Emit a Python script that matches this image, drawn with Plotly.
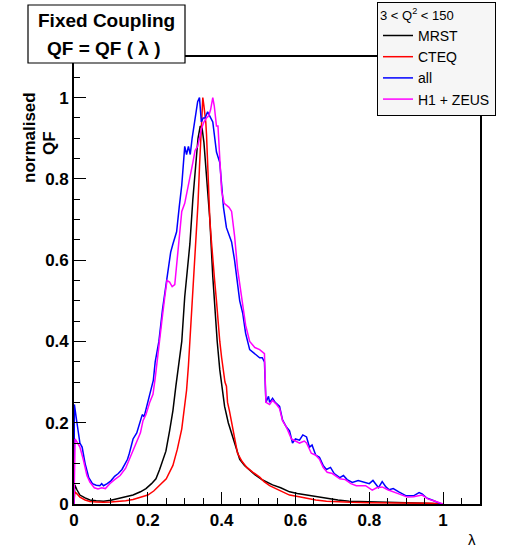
import plotly.graph_objects as go

# ---------------- data ----------------
mrst_x = [0, 0.002, 0.008, 0.016, 0.03, 0.043, 0.06, 0.08, 0.1, 0.12, 0.14, 0.16, 0.18, 0.195, 0.21,
          0.222, 0.232, 0.24, 0.249, 0.259, 0.268, 0.276, 0.284, 0.292, 0.30, 0.307, 0.314, 0.322,
          0.328, 0.332, 0.336, 0.342, 0.347, 0.352, 0.359, 0.368, 0.376, 0.381, 0.388, 0.395, 0.402,
          0.408, 0.418, 0.427, 0.438, 0.449, 0.462, 0.476, 0.49, 0.511, 0.525, 0.538, 0.56, 0.584,
          0.605, 0.63, 0.655, 0.684, 0.715, 0.746, 0.8, 0.85, 0.9, 0.95, 1.0]
mrst_y = [0, 0.047, 0.035, 0.022, 0.015, 0.01, 0.008, 0.007, 0.009, 0.013, 0.017, 0.022, 0.03, 0.038, 0.05,
          0.062, 0.085, 0.105, 0.13, 0.18, 0.23, 0.29, 0.34, 0.40, 0.51, 0.58, 0.64, 0.75,
          0.82, 0.866, 0.90, 0.93, 0.925, 0.89, 0.81, 0.70, 0.56, 0.48, 0.40, 0.33, 0.28,
          0.24, 0.2, 0.175, 0.14, 0.11, 0.095, 0.084, 0.072, 0.059, 0.052, 0.047, 0.04, 0.03,
          0.026, 0.022, 0.018, 0.015, 0.01, 0.007, 0.005, 0.004, 0.003, 0.002, 0.0]

cteq_x = [0, 0.002, 0.008, 0.016, 0.03, 0.043, 0.06, 0.08, 0.1, 0.12, 0.14, 0.16, 0.18, 0.2, 0.216,
          0.232, 0.25, 0.268, 0.28, 0.292, 0.3, 0.305, 0.31, 0.314, 0.318, 0.322, 0.328, 0.332, 0.336,
          0.34, 0.344, 0.346, 0.349, 0.352, 0.354, 0.357, 0.359, 0.362, 0.365, 0.368, 0.372, 0.376,
          0.381, 0.386, 0.39, 0.395, 0.4, 0.404, 0.409, 0.413, 0.416, 0.421, 0.427, 0.435, 0.443,
          0.455, 0.468, 0.485, 0.503, 0.515, 0.53, 0.551, 0.57, 0.584, 0.61, 0.63, 0.655, 0.684,
          0.72, 0.75, 0.8, 0.9, 0.97, 1.0]
cteq_y = [0, 0.03, 0.025, 0.017, 0.01, 0.006, 0.005, 0.004, 0.005, 0.006, 0.008, 0.011, 0.016, 0.022, 0.032,
          0.045, 0.062, 0.095, 0.135, 0.185, 0.24, 0.28, 0.34, 0.40, 0.46, 0.52, 0.6, 0.66, 0.74,
          0.83, 0.9, 0.93, 1.0, 0.98, 0.965, 0.94, 0.91, 0.83, 0.76, 0.70, 0.65, 0.595,
          0.55, 0.50, 0.45, 0.40, 0.36, 0.33, 0.30, 0.29, 0.25, 0.23, 0.2, 0.16, 0.125,
          0.105, 0.09, 0.078, 0.066, 0.055, 0.045, 0.036, 0.028, 0.022, 0.018, 0.014, 0.01, 0.007,
          0.005, 0.004, 0.003, 0.003, 0.002, 0.0]

all_x = [0, 0.001, 0.008, 0.016, 0.022, 0.03, 0.04, 0.05, 0.06, 0.07, 0.075, 0.08, 0.09, 0.1, 0.11,
         0.12, 0.13, 0.14, 0.145, 0.15, 0.16, 0.17, 0.175, 0.18, 0.185, 0.19, 0.2, 0.21, 0.215, 0.22,
         0.23, 0.24, 0.246, 0.255, 0.262, 0.268, 0.278, 0.285, 0.292, 0.30, 0.305, 0.31, 0.315, 0.32,
         0.325, 0.33, 0.335, 0.34, 0.345, 0.35, 0.355, 0.362, 0.37, 0.376, 0.386, 0.395, 0.40, 0.405,
         0.413, 0.42, 0.427, 0.435, 0.443, 0.449, 0.457, 0.465, 0.476, 0.49, 0.503, 0.51, 0.516,
         0.52, 0.527, 0.53, 0.538, 0.545, 0.55, 0.557, 0.565, 0.575, 0.584, 0.592, 0.6, 0.611, 0.62,
         0.63, 0.638, 0.645, 0.655, 0.665, 0.675, 0.684, 0.695, 0.705, 0.72, 0.73, 0.74, 0.754,
         0.77, 0.79, 0.8, 0.81, 0.825, 0.835, 0.845, 0.854, 0.865, 0.88, 0.9, 0.92, 0.935, 0.943,
         0.955, 0.97, 0.985, 0.995]
all_y = [0, 0.245, 0.2, 0.15, 0.14, 0.10, 0.065, 0.05, 0.046, 0.045, 0.05, 0.045, 0.05, 0.057, 0.068,
         0.075, 0.085, 0.10, 0.11, 0.125, 0.16, 0.175, 0.19, 0.21, 0.22, 0.215, 0.25, 0.29, 0.305, 0.35,
         0.40, 0.48, 0.52, 0.57, 0.62, 0.64, 0.67, 0.73, 0.785, 0.88, 0.86, 0.88, 0.86, 0.90,
         0.93, 0.97, 0.99, 1.0, 0.94, 0.95, 0.95, 0.965, 0.95, 0.94, 0.866, 0.84, 0.785, 0.73,
         0.68, 0.66, 0.645, 0.6, 0.54, 0.50, 0.47, 0.42, 0.38, 0.37, 0.36, 0.36, 0.35,
         0.25, 0.265, 0.25, 0.26, 0.25, 0.245, 0.24, 0.207, 0.19, 0.18, 0.15, 0.16, 0.157, 0.17,
         0.165, 0.14, 0.145, 0.12, 0.115, 0.095, 0.085, 0.09, 0.075, 0.065, 0.07, 0.06, 0.053,
         0.058, 0.052, 0.05, 0.058, 0.04, 0.055, 0.042, 0.035, 0.038, 0.03, 0.02, 0.02, 0.028, 0.025,
         0.015, 0.01, 0.005, 0.0]

h1zeus_x = [0, 0.003, 0.01, 0.016, 0.025, 0.035, 0.043, 0.055, 0.065, 0.075, 0.085, 0.097, 0.11, 0.125,
            0.14, 0.15, 0.16, 0.168, 0.18, 0.187, 0.195, 0.205, 0.214, 0.22, 0.23, 0.238, 0.246, 0.252,
            0.259, 0.266, 0.273, 0.281, 0.292, 0.30, 0.307, 0.314, 0.322, 0.328, 0.335, 0.346, 0.352,
            0.359, 0.365, 0.37, 0.376, 0.38, 0.386, 0.39, 0.395, 0.40, 0.407, 0.413, 0.42, 0.427, 0.435,
            0.443, 0.449, 0.457, 0.465, 0.476, 0.49, 0.503, 0.51, 0.516, 0.52, 0.53, 0.538, 0.549,
            0.557, 0.565, 0.575, 0.589, 0.6, 0.611, 0.624, 0.63, 0.643, 0.655, 0.665, 0.675, 0.686,
            0.7, 0.72, 0.735, 0.75, 0.765, 0.79, 0.808, 0.82, 0.835, 0.85, 0.868, 0.88, 0.903, 0.92,
            0.943, 0.96, 0.975, 0.99, 1.0]
h1zeus_y = [0, 0.16, 0.15, 0.14, 0.11, 0.07, 0.054, 0.04, 0.037, 0.04, 0.038, 0.05, 0.06, 0.07,
            0.088, 0.11, 0.13, 0.15, 0.175, 0.205, 0.22, 0.25, 0.27, 0.31, 0.38, 0.45, 0.51, 0.55,
            0.546, 0.535, 0.54, 0.62, 0.72, 0.74, 0.77, 0.80, 0.84, 0.87, 0.88, 0.925, 0.94,
            0.95, 0.955, 0.97, 1.0, 0.98, 0.93, 0.93, 0.84, 0.77, 0.74, 0.735, 0.73, 0.72, 0.66,
            0.58, 0.54, 0.49, 0.44, 0.40, 0.385, 0.38, 0.375, 0.37, 0.25, 0.245, 0.255, 0.245,
            0.235, 0.205, 0.19, 0.16, 0.155, 0.15, 0.155, 0.15, 0.125, 0.12, 0.11, 0.09, 0.078,
            0.075, 0.062, 0.06, 0.05, 0.045, 0.045, 0.034, 0.04, 0.042, 0.035, 0.03, 0.025, 0.017, 0.018,
            0.022, 0.012, 0.008, 0.003, 0.0]

x_tick_vals = [0, 0.2, 0.4, 0.6, 0.8, 1.0]
x_tick_text = ["0", "0.2", "0.4", "0.6", "0.8", "1"]
y_tick_vals = [0, 0.2, 0.4, 0.6, 0.8, 1.0]
y_tick_text = ["0", "0.2", "0.4", "0.6", "0.8", "1"]

series_names = ["MRST", "CTEQ", "all", "H1 + ZEUS"]
series_colors = ["#000000", "#ff0000", "#0000ff", "#ff00ff"]

# ---------------- layout helpers (pixel -> paper) ----------------
W, H = 511, 547
L, R, T, B = 74, 480, 57, 504
def pxx(x):
    return (x - L) / (R - L)
def pxy(y):
    return (B - y) / (B - T)

FONT = "Liberation Sans, Arial, sans-serif"

fig = go.Figure()
for xs, ys, name, col in zip([mrst_x, cteq_x, all_x, h1zeus_x],
                             [mrst_y, cteq_y, all_y, h1zeus_y],
                             series_names, series_colors):
    fig.add_trace(go.Scatter(x=xs, y=ys, mode="lines", name=name,
                             line=dict(color=col, width=1.5)))

axis_common = dict(
    showline=True, mirror=True, linecolor="black", linewidth=1.6,
    ticks="inside", ticklen=12, tickwidth=1.2, tickcolor="black",
    minor=dict(ticks="inside", ticklen=6, dtick=0.05, tick0=0, tickcolor="black", tickwidth=1.2),
    showgrid=False, zeroline=False,
    tickfont=dict(family=FONT, size=17, color="black", weight="bold"),
    range=[0, 1.1], fixedrange=True,
)
fig.update_xaxes(**axis_common, tickvals=x_tick_vals, ticktext=x_tick_text)
fig.update_yaxes(**axis_common, tickvals=y_tick_vals, ticktext=y_tick_text)

fig.update_layout(
    width=W, height=H, autosize=False,
    margin=dict(l=L, r=W - R, t=T, b=H - B, pad=0, autoexpand=False),
    paper_bgcolor="white", plot_bgcolor="white",
    showlegend=True,
    legend=dict(
        x=pxx(377), y=pxy(2), xanchor="left", yanchor="top",
        bgcolor="#f6f6f6", bordercolor="black", borderwidth=1,
        font=dict(family=FONT, size=14, color="black"),
        title=dict(text="3 < Q<sup>2</sup> < 150", font=dict(family=FONT, size=13, color="black")),
        tracegroupgap=0,
    ),
    shapes=[
        dict(type="rect", xref="paper", yref="paper",
             x0=pxx(28), x1=pxx(185), y0=pxy(63), y1=pxy(5),
             line=dict(color="black", width=1.2), fillcolor="white", layer="above"),
    ],
    annotations=[
        dict(text="<b>Fixed Coupling</b>", xref="paper", yref="paper",
             x=pxx(106.5), y=pxy(21), showarrow=False, xanchor="center", yanchor="middle",
             font=dict(family=FONT, size=19, color="black")),
        dict(text="<b>QF = QF ( λ )</b>", xref="paper", yref="paper",
             x=pxx(103), y=pxy(49), showarrow=False, xanchor="center", yanchor="middle",
             font=dict(family=FONT, size=19, color="black")),
        dict(text="<b>normalised</b>", xref="paper", yref="paper", textangle=-90,
             x=pxx(29), y=pxy(138), showarrow=False, xanchor="center", yanchor="middle",
             font=dict(family=FONT, size=17, color="black")),
        dict(text="<b>QF</b>", xref="paper", yref="paper", textangle=-90,
             x=pxx(49), y=pxy(143), showarrow=False, xanchor="center", yanchor="middle",
             font=dict(family=FONT, size=17, color="black")),
        dict(text="λ", xref="paper", yref="paper",
             x=pxx(472), y=pxy(539), showarrow=False, xanchor="center", yanchor="middle",
             font=dict(family=FONT, size=15, color="black")),
    ],
)

fig.write_html("out.html")
